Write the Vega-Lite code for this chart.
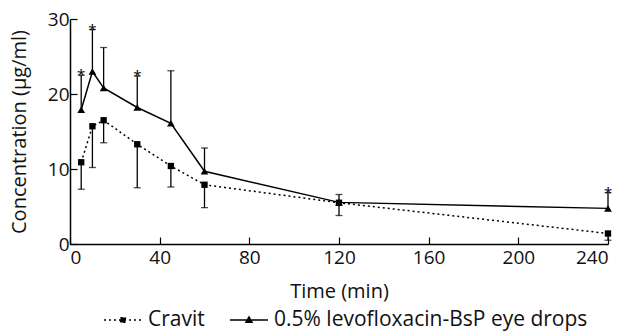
{
  "$schema": "https://vega.github.io/schema/vega-lite/v6.json",
  "width": 538,
  "height": 225,
  "autosize": {"type": "none"},
  "padding": {"left": 70, "top": 19, "right": 20, "bottom": 87},
  "background": "white",
  "config": {
    "view": {"stroke": null},
    "font": "Open Sans",
    "axis": {
      "domainColor": "black",
      "domainWidth": 1.5,
      "tickColor": "black",
      "tickWidth": 1.2,
      "tickSize": -7,
      "grid": false,
      "labelFont": "Open Sans",
      "labelFontSize": 19,
      "labelColor": "#111",
      "titleFont": "Open Sans",
      "titleFontSize": 20,
      "titleFontWeight": "normal",
      "titleColor": "#111"
    }
  },
  "data": {
    "values": [
      {"series": "0.5% levofloxacin-BsP eye drops", "time": 5, "conc": 17.9, "end": 22.5, "star": "*"},
      {"series": "0.5% levofloxacin-BsP eye drops", "time": 10, "conc": 23.0, "end": 28.6, "star": "*"},
      {"series": "0.5% levofloxacin-BsP eye drops", "time": 15, "conc": 20.8, "end": 26.2, "star": ""},
      {"series": "0.5% levofloxacin-BsP eye drops", "time": 30, "conc": 18.2, "end": 22.4, "star": "*"},
      {"series": "0.5% levofloxacin-BsP eye drops", "time": 45, "conc": 16.1, "end": 23.1, "star": ""},
      {"series": "0.5% levofloxacin-BsP eye drops", "time": 60, "conc": 9.7, "end": 12.8, "star": ""},
      {"series": "0.5% levofloxacin-BsP eye drops", "time": 120, "conc": 5.55, "end": 6.6, "star": ""},
      {"series": "0.5% levofloxacin-BsP eye drops", "time": 240, "conc": 4.75, "end": 6.85, "star": "*"},
      {"series": "Cravit", "time": 5, "conc": 10.9, "end": 7.3, "star": ""},
      {"series": "Cravit", "time": 10, "conc": 15.7, "end": 10.2, "star": ""},
      {"series": "Cravit", "time": 15, "conc": 16.5, "end": 13.5, "star": ""},
      {"series": "Cravit", "time": 30, "conc": 13.3, "end": 7.5, "star": ""},
      {"series": "Cravit", "time": 45, "conc": 10.4, "end": 7.6, "star": ""},
      {"series": "Cravit", "time": 60, "conc": 7.9, "end": 4.85, "star": ""},
      {"series": "Cravit", "time": 120, "conc": 5.5, "end": 3.8, "star": ""},
      {"series": "Cravit", "time": 240, "conc": 1.4, "end": 0.5, "star": ""}
    ]
  },
  "encoding": {
    "x": {
      "field": "time", "type": "quantitative",
      "scale": {"domain": [0, 240], "nice": false},
      "axis": {"values": [0, 40, 80, 120, 160, 200, 240], "title": "Time (min)", "labelPadding": 11, "titlePadding": 14}
    },
    "y": {
      "field": "conc", "type": "quantitative",
      "scale": {"domain": [0, 30], "nice": false},
      "axis": {"values": [0, 10, 20, 30], "title": "Concentration (μg/ml)", "labelPadding": 8, "titlePadding": 18}
    }
  },
  "layer": [
    {
      "mark": {"type": "rule", "color": "black", "strokeWidth": 1.3},
      "encoding": {"y2": {"field": "end"}}
    },
    {
      "mark": {"type": "tick", "color": "black", "orient": "horizontal", "size": 7, "thickness": 1.3},
      "encoding": {"y": {"field": "end", "type": "quantitative"}}
    },
    {
      "transform": [{"filter": "datum.series !== 'Cravit'"}],
      "mark": {"type": "line", "color": "black", "strokeWidth": 1.5}
    },
    {
      "transform": [{"filter": "datum.series === 'Cravit'"}],
      "mark": {"type": "line", "color": "black", "strokeWidth": 1.5, "strokeDash": [2, 3]}
    },
    {
      "transform": [{"filter": "datum.series !== 'Cravit'"}],
      "mark": {"type": "point", "filled": true, "color": "black", "opacity": 1, "shape": "triangle-up", "size": 60}
    },
    {
      "transform": [{"filter": "datum.series === 'Cravit'"}],
      "mark": {"type": "point", "filled": true, "color": "black", "opacity": 1, "shape": "square", "size": 40}
    },
    {
      "transform": [{"filter": "datum.star === '*'"}],
      "mark": {"type": "text", "color": "black", "fontSize": 15, "baseline": "alphabetic", "dy": 5, "font": "Open Sans"},
      "encoding": {
        "y": {"field": "end", "type": "quantitative"},
        "text": {"field": "star"}
      }
    },
    {
      "transform": [{"filter": "false"}],
      "mark": {"type": "point", "filled": true, "color": "black", "opacity": 1},
      "encoding": {
        "shape": {
          "field": "series", "type": "nominal",
          "scale": {
            "domain": ["Cravit", "0.5% levofloxacin-BsP eye drops"],
            "range": ["M-1,0H1M-0.13,-0.13H0.13V0.13H-0.13Z", "M-1,0H1M0,-0.17L0.17,0.13H-0.17Z"]
          },
          "legend": {
            "title": null,
            "orient": "none",
            "direction": "horizontal",
            "legendX": 33,
            "legendY": 281,
            "labelFont": "Open Sans",
            "labelFontSize": 21,
            "labelColor": "#111",
            "labelLimit": 0,
            "labelOffset": 5,
            "columnPadding": 22,
            "symbolSize": 1444,
            "encoding": {
              "symbols": {
                "strokeDash": {"condition": {"test": "datum.value === 'Cravit'", "value": [2, 3]}, "value": [1, 0]},
                "fill": {"value": "black"},
                "stroke": {"value": "black"},
                "strokeWidth": {"value": 1.3},
                "opacity": {"value": 1},
                "fillOpacity": {"value": 1}
              }
            }
          }
        }
      }
    }
  ]
}
